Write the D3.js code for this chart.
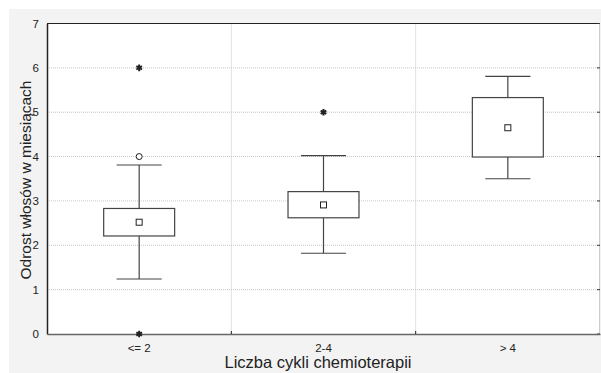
<!DOCTYPE html>
<html>
<head>
<meta charset="utf-8">
<script src="https://cdn.jsdelivr.net/npm/d3@7"></script>
<style>
  body { margin: 0; background: #fff; }
  text { font-family: "Liberation Sans", Arial, sans-serif; fill: #222; }
</style>
</head>
<body>
<div id="wrapper"></div>
<script>
// categories and box statistics
const categories = ["<= 2", "2-4", "> 4"];
const means = [2.52, 2.91, 4.65];
const q1 = [2.21, 2.62, 3.99];
const q3 = [2.83, 3.21, 5.33];
const whiskerLow = [1.24, 1.82, 3.50];
const whiskerHigh = [3.81, 4.02, 5.81];
// outliers (circle) and extremes (star)
const outliers = [{cat: "<= 2", value: 4}];
const extremes = [{cat: "<= 2", value: 6}, {cat: "<= 2", value: 0}, {cat: "2-4", value: 5}];
const yTicks = [0, 1, 2, 3, 4, 5, 6, 7];

const dimension = {
    width: 601,
    height: 373,
    margin: {top: 23.5, left: 47, bottom: 39, right: 1}
};
dimension.boundedWidth = dimension.width - dimension.margin.left - dimension.margin.right;
dimension.boundedHeight = dimension.height - dimension.margin.top - dimension.margin.bottom;

const svg = d3.select("#wrapper").append("svg")
    .attr("width", dimension.width)
    .attr("height", dimension.height);

// gray panel behind everything
svg.append("rect")
    .attr("x", 9).attr("y", 9)
    .attr("width", dimension.width - 9).attr("height", dimension.height - 9)
    .attr("fill", "#f3f3f3");

const bounded = svg.append("g")
    .attr("transform", `translate(${dimension.margin.left},${dimension.margin.top})`);

bounded.append("rect")
    .attr("width", dimension.boundedWidth)
    .attr("height", dimension.boundedHeight)
    .attr("fill", "#fff");

const xScale = d3.scaleBand()
    .domain(categories)
    .range([0, dimension.boundedWidth]);
const yScale = d3.scaleLinear()
    .domain([0, 7])
    .range([dimension.boundedHeight, 0]);

// dotted grid
bounded.append("g").selectAll("line")
    .data(yTicks.slice(1, -1))
    .join("line")
    .attr("x1", 0).attr("x2", dimension.boundedWidth)
    .attr("y1", d => yScale(d)).attr("y2", d => yScale(d))
    .attr("stroke", "#c4c4c4")
    .attr("stroke-dasharray", "1,1");
bounded.append("g").selectAll("line")
    .data(categories.slice(1))
    .join("line")
    .attr("x1", d => xScale(d)).attr("x2", d => xScale(d))
    .attr("y1", 0).attr("y2", dimension.boundedHeight)
    .attr("stroke", "#c4c4c4")
    .attr("stroke-dasharray", "1,1");

// frame
bounded.append("line")
    .attr("x1", 0).attr("x2", dimension.boundedWidth)
    .attr("y1", 0).attr("y2", 0)
    .attr("stroke", "#222").attr("stroke-width", 1.2);
bounded.append("line")
    .attr("x1", dimension.boundedWidth - 0.5).attr("x2", dimension.boundedWidth - 0.5)
    .attr("y1", 0).attr("y2", dimension.boundedHeight)
    .attr("stroke", "#ccc");
bounded.append("g").selectAll("line")
    .data(yTicks)
    .join("line")
    .attr("x1", dimension.boundedWidth - 3).attr("x2", dimension.boundedWidth)
    .attr("y1", d => yScale(d)).attr("y2", d => yScale(d))
    .attr("stroke", "#333");

// y axis
const yAxis = bounded.append("g")
    .call(d3.axisLeft(yScale).tickValues(yTicks).tickFormat(d3.format("d")).tickSize(0).tickPadding(8));
yAxis.select(".domain").attr("stroke", "#222").attr("stroke-width", 1.5);
yAxis.selectAll("text").style("font-size", "11.5px");

// x axis
const xAxis = bounded.append("g")
    .attr("transform", `translate(0,${dimension.boundedHeight})`)
    .call(d3.axisBottom(xScale).tickSize(0).tickPadding(10));
xAxis.select(".domain").attr("stroke", "#666").attr("stroke-width", 1.5);
xAxis.selectAll("text").style("font-size", "11.5px");
xAxis.selectAll(".divider")
    .data(categories.slice(1))
    .join("line")
    .attr("x1", d => xScale(d)).attr("x2", d => xScale(d))
    .attr("y1", -3).attr("y2", 0)
    .attr("stroke", "#222");

// axis titles
svg.append("text")
    .attr("transform", `translate(31,180) rotate(-90)`)
    .attr("text-anchor", "middle")
    .style("font-size", "15.5px")
    .text("Odrost włosów w miesiącach");
svg.append("text")
    .attr("x", 318).attr("y", 368)
    .attr("text-anchor", "middle")
    .style("font-size", "16.5px")
    .text("Liczba cykli chemioterapii");

// boxes
const cx = c => xScale(c) + xScale.bandwidth() / 2;
const boxW = xScale.bandwidth() * 0.385;
const capW = xScale.bandwidth() * 0.245;
const boxes = bounded.append("g").selectAll("g")
    .data(categories)
    .join("g");

boxes.append("line")
    .attr("x1", d => cx(d)).attr("x2", d => cx(d))
    .attr("y1", (d, i) => yScale(whiskerHigh[i])).attr("y2", (d, i) => yScale(q3[i]))
    .attr("stroke", "#444").attr("stroke-width", 1.2);
boxes.append("line")
    .attr("x1", d => cx(d)).attr("x2", d => cx(d))
    .attr("y1", (d, i) => yScale(q1[i])).attr("y2", (d, i) => yScale(whiskerLow[i]))
    .attr("stroke", "#444").attr("stroke-width", 1.2);
boxes.append("line")
    .attr("x1", d => cx(d) - capW / 2).attr("x2", d => cx(d) + capW / 2)
    .attr("y1", (d, i) => yScale(whiskerHigh[i])).attr("y2", (d, i) => yScale(whiskerHigh[i]))
    .attr("stroke", "#444").attr("stroke-width", 1.2);
boxes.append("line")
    .attr("x1", d => cx(d) - capW / 2).attr("x2", d => cx(d) + capW / 2)
    .attr("y1", (d, i) => yScale(whiskerLow[i])).attr("y2", (d, i) => yScale(whiskerLow[i]))
    .attr("stroke", "#444").attr("stroke-width", 1.2);
boxes.append("rect")
    .attr("x", d => cx(d) - boxW / 2)
    .attr("width", boxW)
    .attr("y", (d, i) => yScale(q3[i]))
    .attr("height", (d, i) => yScale(q1[i]) - yScale(q3[i]))
    .attr("fill", "#fff")
    .attr("stroke", "#444").attr("stroke-width", 1.2);
boxes.append("rect")
    .attr("x", d => cx(d) - 3)
    .attr("y", (d, i) => yScale(means[i]) - 3)
    .attr("width", 6).attr("height", 6)
    .attr("fill", "#fff")
    .attr("stroke", "#222");

// outliers and extremes
bounded.append("g").selectAll("circle")
    .data(outliers)
    .join("circle")
    .attr("cx", d => cx(d.cat))
    .attr("cy", d => yScale(d.value))
    .attr("r", 3)
    .attr("fill", "#fff")
    .attr("stroke", "#222");
bounded.append("g").selectAll("path")
    .data(extremes)
    .join("path")
    .attr("transform", d => `translate(${cx(d.cat)},${yScale(d.value)})`)
    .attr("d", d3.symbol().type(d3.symbolAsterisk).size(30))
    .attr("fill", "none")
    .attr("stroke", "#222")
    .attr("stroke-width", 2);
</script>
</body>
</html>
